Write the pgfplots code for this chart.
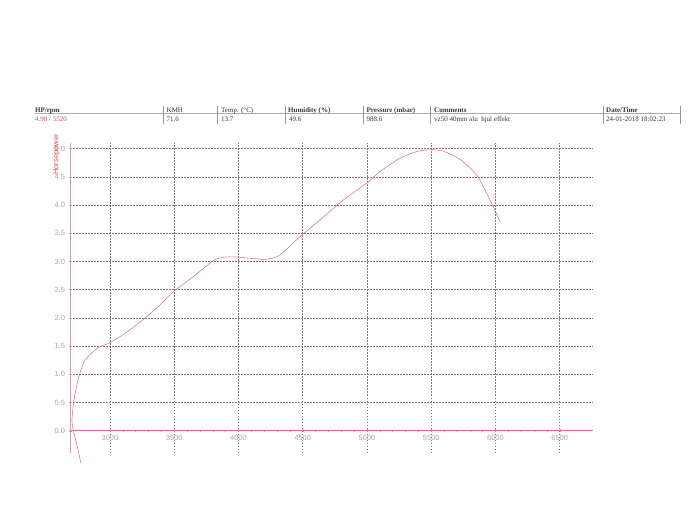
\documentclass[border=0pt]{standalone}
\usepackage{fontspec}
\setmainfont{Liberation Serif}
\newfontfamily\arial{Liberation Sans}
\usepackage{pgfplots}
\pgfplotsset{compat=1.18}
\definecolor{curve}{RGB}{210,118,138}
\definecolor{gridc}{RGB}{145,112,120}
\definecolor{yaxc}{RGB}{225,150,162}
\definecolor{xaxc}{RGB}{225,110,122}
\definecolor{tickc}{RGB}{190,158,166}
\definecolor{hdr}{RGB}{55,55,55}
\definecolor{hpred}{RGB}{205,80,100}
\definecolor{sepc}{RGB}{150,150,150}
\pgfplotstableread{
rpm hp
2774 -0.578
2746 -0.284
2714 0.012
2704 0.19
2720 0.544
2746 0.846
2774 1.076
2805 1.25
2858 1.378
2922 1.489
3000 1.56
3130 1.745
3286 2.02
3389 2.229
3493 2.465
3648 2.73
3804 3.014
3882 3.074
3986 3.08
4089 3.057
4219 3.039
4323 3.115
4479 3.44
4634 3.736
4816 4.09
4998 4.387
5101 4.592
5257 4.83
5387 4.95
5460 4.975
5520 4.98
5594 4.955
5724 4.81
5854 4.534
5931 4.21
5983 3.97
6035 3.706
}\hpdata
\begin{document}
\begin{tikzpicture}[x=1pt,y=1pt]
\path[use as bounding box] (0,0) rectangle (695,522);
% header table
\draw[sepc!80,line width=0.4pt] (35,408.5) -- (680,408.5);
\foreach \xx in {162.7,217.3,285,363.3,430,603.3,680}
  \draw[sepc,line width=0.4pt] (\xx,416) -- (\xx,398);
\begin{scope}[every node/.style={anchor=base west,inner sep=0pt,font=\fontsize{7}{8}\selectfont,text=hdr}]
\node at (35,409.5) {\textbf{HP/rpm}};
\node at (166.5,409.5) {KMH};
\node at (221,409.5) {Temp. (°C)};
\node at (288,409.5) {\textbf{Humidity (\%)}};
\node at (366.5,409.5) {\textbf{Pressure (mbar)}};
\node at (434,409.5) {\textbf{Comments}};
\node at (606,409.5) {\textbf{Date/Time}};
\node[text=hpred] at (35,400) {4.98 / 5520};
\node at (166.5,400) {71.6};
\node at (221,400) {13.7};
\node at (289,400) {49.6};
\node at (366.5,400) {988.6};
\node at (434,400) {vz50 40mm alu\ \ hjul effekt};
\node at (606,400) {24-01-2018 18:02:23};
\end{scope}
\begin{axis}[
  at={(70pt,69pt)}, anchor=south west,
  scale only axis, width=523pt, height=310pt,
  xmin=2689, xmax=6759, ymin=-0.395, ymax=5.10,
  axis x line=middle, axis y line=left,
  axis line style={-},
  x axis line style={xaxc, line width=0.6pt},
  y axis line style={yaxc, line width=0.6pt},
  xtick={3000,3500,4000,4500,5000,5500,6000,6500},
  ytick={0,0.5,1,1.5,2,2.5,3,3.5,4,4.5,5},
  minor x tick num=4,
  grid=major,
  major grid style={gridc, dash pattern=on 1.5pt off 1.5pt, line width=0.5pt},
  tick style={tickc, line width=0.4pt},
  major tick length=3pt, minor tick length=2pt,
  /pgf/number format/assume math mode=true,
  xticklabel style={font=\arial\fontsize{7.5}{8}\selectfont, text=tickc, /pgf/number format/1000 sep={}},
  yticklabel style={font=\arial\fontsize{7.5}{8}\selectfont, text=tickc, /pgf/number format/fixed, /pgf/number format/fixed zerofill, /pgf/number format/precision=1},
  clip=false,
]
\addplot[curve, line width=0.55pt, smooth, tension=0.4] table[x=rpm,y=hp] {\hpdata};
\end{axis}
\node[rotate=90, text=hpred, font=\arial\fontsize{7.5}{9}\selectfont] at (56.5,367.5) {Horsepower};
\end{tikzpicture}
\end{document}
